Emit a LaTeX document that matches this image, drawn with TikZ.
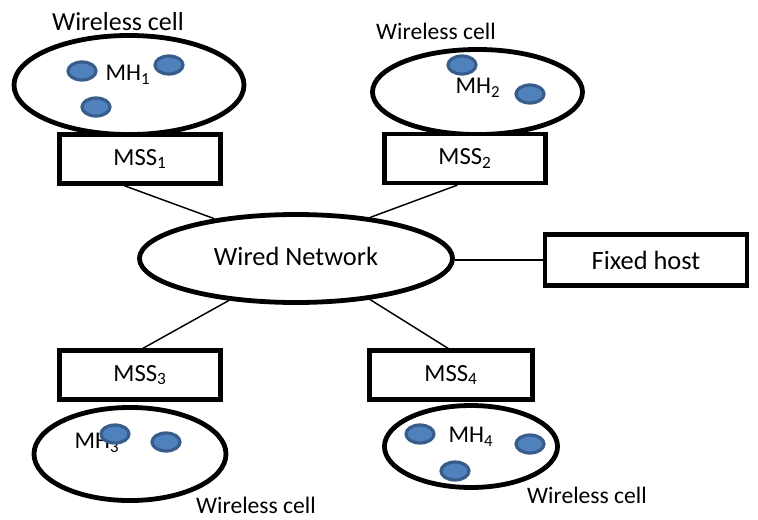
\documentclass[tikz,border=0pt]{standalone}
\usepackage{fontspec}
\setmainfont{Carlito}
\usetikzlibrary{shapes.geometric}
\definecolor{dotfill}{RGB}{79,129,189}
\definecolor{dotline}{RGB}{56,93,138}
\tikzset{
  cell/.style={
    draw=black,
    ellipse,
    line width=3.6pt,
    fill=white,
    inner sep=0pt
  },
  station/.style={
    draw=black,
    line width=3.4pt,
    fill=white,
    minimum width=120.8pt,
    minimum height=36.5pt,
    inner sep=0pt,
    font=\fontsize{18.5pt}{22pt}\selectfont
  },
  host/.style={
    draw=dotline,
    fill=dotfill,
    ellipse,
    line width=2.4pt,
    minimum width=21pt,
    minimum height=13.5pt,
    inner sep=0pt
  },
  hostlabel/.style={inner sep=0pt, font=\fontsize{18pt}{22pt}\selectfont},
  celllabel/.style={inner sep=0pt, font=\fontsize{17.7pt}{21pt}\selectfont},
  link/.style={line width=1.1pt}
}

\begin{document}
\begin{tikzpicture}[x=0.75pt, y=-0.75pt]
  \useasboundingbox (0,0) rectangle (758,519);
  \node[cell, minimum width=172.5pt, minimum height=74.3pt] (cell1) at (129,85) {};
  \node[cell, minimum width=157.5pt, minimum height=63.8pt] (cell2) at (477.5,92) {};
  \node[cell, minimum width=144pt, minimum height=69.8pt] (cell3) at (130,454) {};
  \node[cell, minimum width=129.8pt, minimum height=61.5pt] (cell4) at (471,446.5) {};
  \node[cell, minimum width=234.8pt, minimum height=66pt,
        font=\fontsize{19.8pt}{24pt}\selectfont] (wired) at (296,258.5) {\raisebox{3.5pt}{Wired Network}};

  \node[station] (mss1) at (140,159) {MSS\textsubscript{1}};
  \node[station] (mss2) at (465,158.5) {MSS\textsubscript{2}};
  \node[station] (mss3) at (140,375) {MSS\textsubscript{3}};
  \node[station, minimum width=122pt] (mss4) at (451,375) {MSS\textsubscript{4}};
  \node[station, minimum width=151.5pt, minimum height=38.3pt,
        font=\fontsize{19.8pt}{24pt}\selectfont] (fixed) at (646,260) {Fixed host};

  \node[celllabel, font=\fontsize{19.5pt}{23pt}\selectfont] (wc1) at (118,22) {Wireless cell};
  \node[celllabel] (wc2) at (436,31) {Wireless cell};
  \node[celllabel] (wc3) at (256,505) {Wireless cell};
  \node[celllabel] (wc4) at (587,495) {Wireless cell};

  \node[hostlabel] (mh1) at (128,75) {MH\textsubscript{1}};
  \node[hostlabel] (mh2) at (478,88) {MH\textsubscript{2}};
  \node[hostlabel] (mh3) at (97,443) {MH\textsubscript{3}};
  \node[hostlabel] (mh4) at (471,437) {MH\textsubscript{4}};

  \node[host] (h1a) at (82,71) {};
  \node[host] (h1b) at (169,65) {};
  \node[host] (h1c) at (96,107) {};
  \node[host] (h2a) at (462,65) {};
  \node[host] (h2b) at (530,94) {};
  \node[host] (h3a) at (115,434) {};
  \node[host] (h3b) at (166,442) {};
  \node[host] (h4a) at (420,434) {};
  \node[host] (h4b) at (530,444) {};
  \node[host] (h4c) at (455,471) {};

  \draw[link] (mss1.239) -- (wired.154);
  \draw[link] (mss2.254) -- (wired.29);
  \draw[link] (wired.212) -- (mss3.84);
  \draw[link] (wired.331) -- (mss4.96);
  \draw[link] (wired.east |- fixed.west) -- (fixed.west);
\end{tikzpicture}
\end{document}
